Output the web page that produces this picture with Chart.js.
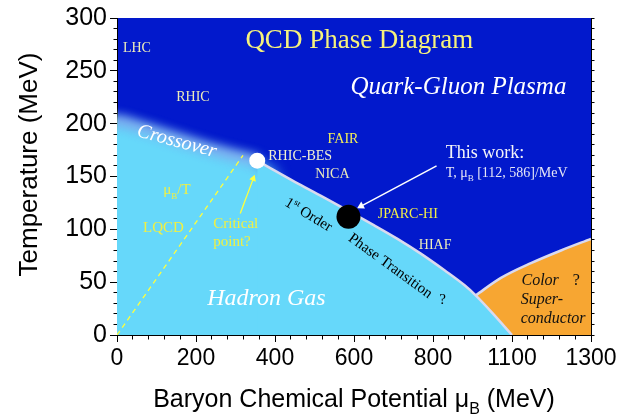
<!DOCTYPE html>
<html>
<head>
<meta charset="utf-8">
<script src="https://cdn.jsdelivr.net/npm/chart.js@4.4.1/dist/chart.umd.min.js"></script>
<style>
  html, body { margin: 0; padding: 0; background: #ffffff; }
  #wrap { width: 639px; height: 419px; }
</style>
</head>
<body>
<div id="wrap"><canvas id="c" width="639" height="419"></canvas></div>
<script>
// ---- axis tick labels ----
const xTickLabels = ['0', '200', '400', '600', '800', '1100', '1300'];
const yTickLabels = ['0', '50', '100', '150', '200', '250', '300'];

// ---- crossover boundary (muB, T in MeV); the tail dips under the first-order line ----
const crossMu = [-60, 0, 60, 120, 180, 240, 300, 355, 375, 400, 430, 470];
const crossT  = [203, 203, 197, 190, 183, 176, 170, 165, 160.5, 155, 100, 0];

// ---- first-order transition line, critical point down to T = 0 ----
const firstMu = [355, 388, 450, 520, 588, 650, 710, 769, 830, 880, 908, 950, 1000];
const firstT  = [165, 158, 145, 131, 117, 104, 91, 77, 61, 47, 37.5, 21, 0];

// ---- bright band along the crossover ----
const glowMu = [-60, 0, 60, 120, 180, 240, 300, 355];
const glowT  = [203, 203, 197, 190, 183, 176, 170, 165];

// ---- colour-superconductor upper boundary ----
const scMu = [908, 972, 1048, 1124, 1200];
const scT  = [37.5, 54, 68, 80, 91];

// ---- lattice QCD muB/T guide line ----
const lqcdMu = [0, 319];
const lqcdT  = [0, 170];

// ---- critical point and this work ----
const critMu = 355, critT = 165;
const workMu = 586, workT = 112;

// ---- pointer arrows (tail, head) ----
const critArrowMu = [312, 345];
const critArrowT  = [115, 148];
const workArrowMu = [809, 618];
const workArrowT  = [160, 122];

const pts = (xs, ys) => xs.map((v, i) => ({ x: v, y: ys[i] }));

const SERIF = '"Liberation Serif", "Times New Roman", serif';
const SANS = '"Liberation Sans", Arial, sans-serif';
const NARROW = '"Liberation Sans Narrow", "Liberation Sans", Arial, sans-serif';

const DARK_BLUE = '#0219CC';
const LIGHT_BLUE = '#66D8FA';
const ORANGE = '#F7A632';
const EDGE = '#DADAEE';
const PALE = '#ECEBBA';
const YELLOW = '#F2F040';

const notes = [
  { x: 325, y: 272, runs: [['QCD Phase Diagram']], size: 27, font: SERIF, color: '#F6F27C' },
  { x: 15, y: 268, runs: [['LHC']], size: 14, font: SERIF, color: PALE },
  { x: 150, y: 221.5, runs: [['RHIC']], size: 14, font: SERIF, color: PALE },
  { x: 591, y: 228, runs: [['Quark-Gluon Plasma']], size: 25, font: SERIF, italic: true, color: '#FFFFFF' },
  { x: 148, y: 178.3, runs: [['Crossover']], size: 20, font: SERIF, italic: true, color: '#FFFFFF', rot: 15, align: 'center' },
  { x: 383, y: 166, runs: [['RHIC-BES']], size: 14, font: SERIF, color: '#F0EFD0' },
  { x: 533, y: 182, runs: [['FAIR']], size: 14, font: SERIF, color: '#F2EE5A' },
  { x: 502, y: 148.4, runs: [['NICA']], size: 14, font: SERIF, color: PALE },
  { x: 832, y: 167.8, runs: [['This work:']], size: 18, font: SERIF, color: '#F4F4F8' },
  { x: 832, y: 149.3, runs: [['T, \u03BC'], ['B', 'sub'], [' [' + workT + ', ' + workMu + ']/MeV']], size: 14, font: SERIF, color: '#E6E6F6' },
  { x: 660, y: 111, runs: [['JPARC-HI']], size: 14, font: SERIF, color: '#F2EE46' },
  { x: 764, y: 81.3, runs: [['HIAF']], size: 14, font: SERIF, color: PALE },
  { x: 479.5, y: 110.4, runs: [['1'], ['st', 'sup'], [' Order']], size: 15, font: SERIF, color: '#000000', rot: 31, align: 'center' },
  { x: 686, y: 62.2, runs: [['Phase Transition']], size: 15, font: SERIF, color: '#000000', rot: 36, align: 'center' },
  { x: 824, y: 29, runs: [['?']], size: 15, font: SERIF, color: '#000000', align: 'center' },
  { x: 117, y: 133, runs: [['\u03BC'], ['B', 'sub'], ['/T']], size: 15, font: SERIF, color: YELLOW },
  { x: 66, y: 97.8, runs: [['LQCD']], size: 15, font: SERIF, color: YELLOW },
  { x: 243.6, y: 101.5, runs: [['Critical']], size: 15, font: SERIF, color: YELLOW },
  { x: 243.6, y: 84.4, runs: [['point?']], size: 15, font: SERIF, color: YELLOW },
  { x: 228.3, y: 28.1, runs: [['Hadron Gas']], size: 24, font: SERIF, italic: true, color: '#FFFFFF' },
  { x: 1024, y: 46.9, runs: [['Color']], size: 16, font: SERIF, italic: true, color: '#111111' },
  { x: 1154, y: 47.5, runs: [['?']], size: 16, font: SERIF, color: '#111111' },
  { x: 1022, y: 29.7, runs: [['Super-']], size: 16, font: SERIF, italic: true, color: '#111111' },
  { x: 1022, y: 11, runs: [['conductor']], size: 16, font: SERIF, italic: true, color: '#111111' }
];

function drawRuns(ctx, n, px, py) {
  const st = n.italic ? 'italic ' : '';
  const fontFor = k => st + (k ? Math.round(n.size * 0.62) : n.size) + 'px ' + n.font;
  let w = 0;
  n.runs.forEach(([t, k]) => { ctx.font = fontFor(k); w += ctx.measureText(t).width; });
  ctx.save();
  ctx.translate(px, py);
  if (n.rot) ctx.rotate(n.rot * Math.PI / 180);
  let cx = n.align === 'center' ? -w / 2 : 0;
  ctx.fillStyle = n.color;
  ctx.textAlign = 'left';
  ctx.textBaseline = 'alphabetic';
  n.runs.forEach(([t, k]) => {
    ctx.font = fontFor(k);
    const dy = k === 'sub' ? n.size * 0.28 : (k === 'sup' ? -n.size * 0.38 : 0);
    ctx.fillText(t, cx, dy);
    cx += ctx.measureText(t).width;
  });
  ctx.restore();
}

// dark plasma background behind everything inside the axes
const backdrop = {
  id: 'backdrop',
  beforeDraw(chart) {
    const { ctx, chartArea: a } = chart;
    ctx.save();
    ctx.fillStyle = DARK_BLUE;
    ctx.fillRect(a.left, a.top, a.right - a.left, a.bottom - a.top);
    ctx.restore();
  }
};

// soft (blurred) rendering for datasets flagged with a `blur` radius
function setHaze(chart, k) {
  const order = chart.getSortedVisibleDatasetMetas().slice().reverse();
  const m = order[k];
  const b = m ? chart.data.datasets[m.index].blur : 0;
  chart.ctx.filter = b ? 'blur(' + b + 'px)' : 'none';
}
const haze = {
  id: 'haze',
  beforeDatasetsDraw(chart) { setHaze(chart, 0); },
  afterDatasetDraw(chart, args) {
    const order = chart.getSortedVisibleDatasetMetas().slice().reverse();
    setHaze(chart, order.indexOf(args.meta) + 1);
  },
  afterDatasetsDraw(chart) { chart.ctx.filter = 'none'; }
};

const labels = {
  id: 'labels',
  afterDatasetsDraw(chart) {
    const { ctx, scales: { x, y } } = chart;
    notes.forEach(n => drawRuns(ctx, n, x.getPixelForValue(n.x), y.getPixelForValue(n.y)));
  },
  afterDraw(chart) {
    const { ctx, chartArea: a } = chart;
    // y-axis title
    drawRuns(ctx, { runs: [['Temperature (MeV)']], size: 26, font: SANS, color: '#000', rot: -90, align: 'center' },
      37, (a.top + a.bottom) / 2 - 12);
    // x-axis title
    drawRuns(ctx, { runs: [['Baryon Chemical Potential \u03BC'], ['B', 'sub'], [' (MeV)']], size: 25, font: SANS, color: '#000', align: 'center' },
      (a.left + a.right) / 2, 407);
  }
};

function arrowAngle(ctx, xs, ys) {
  const c = ctx.chart;
  const sx = c.scales.x, sy = c.scales.y;
  const dx = sx.getPixelForValue(xs[1]) - sx.getPixelForValue(xs[0]);
  const dy = sy.getPixelForValue(ys[1]) - sy.getPixelForValue(ys[0]);
  return Math.atan2(dx, -dy) * 180 / Math.PI;
}

const chart = new Chart(document.getElementById('c'), {
  type: 'line',
  data: {
    datasets: [
      { // crossover: smooth transition into the hadron phase
        data: pts(crossMu, crossT), order: 10, blur: 7,
        borderWidth: 0, pointRadius: 0, fill: { value: -40 },
        backgroundColor: LIGHT_BLUE, tension: 0.25
      },
      { // bright band along the crossover
        data: pts(glowMu, glowT), order: 9, blur: 5,
        borderWidth: 12, borderColor: 'rgba(200,238,255,0.5)', pointRadius: 0, fill: false,
        cubicInterpolationMode: 'monotone'
      },
      { // colour superconductor
        data: pts(scMu, scT), order: 8,
        borderWidth: 2.5, borderColor: EDGE, pointRadius: 0, fill: 'origin',
        backgroundColor: ORANGE, cubicInterpolationMode: 'monotone'
      },
      { // hadron gas below the first-order line
        data: pts(firstMu, firstT), order: 7,
        borderWidth: 2.5, borderColor: EDGE, pointRadius: 0, fill: 'origin',
        backgroundColor: LIGHT_BLUE, cubicInterpolationMode: 'monotone'
      },
      { // muB/T lattice guide
        data: pts(lqcdMu, lqcdT), order: 6,
        borderWidth: 1.3, borderColor: '#FFFF3C', borderDash: [5, 4], pointRadius: 0, fill: false
      },
      { // arrow to the critical point
        data: pts(critArrowMu, critArrowT), order: 5,
        borderWidth: 1.3, borderColor: '#FFFF3C', fill: false,
        pointRadius: [0, 4], pointStyle: 'triangle', pointBackgroundColor: '#FFFF3C', pointBorderWidth: 0,
        pointRotation: c => arrowAngle(c, critArrowMu, critArrowT)
      },
      { // arrow to this work
        data: pts(workArrowMu, workArrowT), order: 4,
        borderWidth: 1.5, borderColor: '#FFFFFF', fill: false,
        pointRadius: [0, 4.5], pointStyle: 'triangle', pointBackgroundColor: '#FFFFFF', pointBorderWidth: 0,
        pointRotation: c => arrowAngle(c, workArrowMu, workArrowT)
      },
      { // critical point
        data: [{ x: critMu, y: critT }], order: 2, showLine: false,
        pointRadius: 8, pointBackgroundColor: '#FFFFFF', pointBorderWidth: 0
      },
      { // this work
        data: [{ x: workMu, y: workT }], order: 1, showLine: false,
        pointRadius: 12, pointBackgroundColor: '#000000', pointBorderWidth: 0
      }
    ]
  },
  options: {
    responsive: false,
    devicePixelRatio: 1,
    animation: false,
    events: [],
    layout: { padding: { top: 15, left: 0, right: 0, bottom: 0 } },
    plugins: { legend: { display: false }, tooltip: { enabled: false } },
    scales: {
      x: {
        type: 'linear', position: 'bottom', min: 0, max: 1200, z: 1,
        afterBuildTicks: s => { const t = []; for (let v = 0; v <= 1200; v += 40) t.push({ value: v }); s.ticks = t; },
        afterFit: s => { s.height = 84; },
        ticks: {
          autoSkip: false, maxRotation: 0, padding: 3, color: '#000',
          font: { family: NARROW, size: 23 },
          callback: v => (v % 200 === 0 ? xTickLabels[v / 200] : '')
        },
        grid: {
          drawOnChartArea: false, tickLength: 7, tickColor: '#000', tickWidth: 1,
          tickBorderDash: c => (c.tick && c.tick.value % 200 !== 0 ? [3.5, 40] : [])
        },
        border: { display: true, color: '#000', width: 1 }
      },
      y: {
        type: 'linear', position: 'left', min: 0, max: 300, z: 1,
        afterBuildTicks: s => { const t = []; for (let v = 0; v <= 300; v += 10) t.push({ value: v }); s.ticks = t; },
        afterFit: s => { s.width = 117; },
        ticks: {
          autoSkip: false, padding: 3, color: '#000',
          font: { family: SANS, size: 25 },
          callback: v => (v % 50 === 0 ? yTickLabels[v / 50] : '')
        },
        grid: {
          drawOnChartArea: false, tickLength: 7, tickColor: '#000', tickWidth: 1,
          tickBorderDash: c => (c.tick && c.tick.value % 50 !== 0 ? [0, 3.5, 3.5, 40] : [])
        },
        border: { display: true, color: '#000', width: 1 }
      },
      y2: {
        type: 'linear', position: 'right', min: 0, max: 300, z: 1,
        afterBuildTicks: s => { const t = []; for (let v = 0; v <= 300; v += 10) t.push({ value: v }); s.ticks = t; },
        afterFit: s => { s.width = 48; },
        ticks: { display: false, autoSkip: false },
        grid: { drawOnChartArea: false, tickLength: 3.5, tickColor: '#000', tickWidth: 1 },
        border: { display: true, color: '#000', width: 1 }
      }
    }
  },
  plugins: [backdrop, haze, labels]
});
</script>
</body>
</html>
